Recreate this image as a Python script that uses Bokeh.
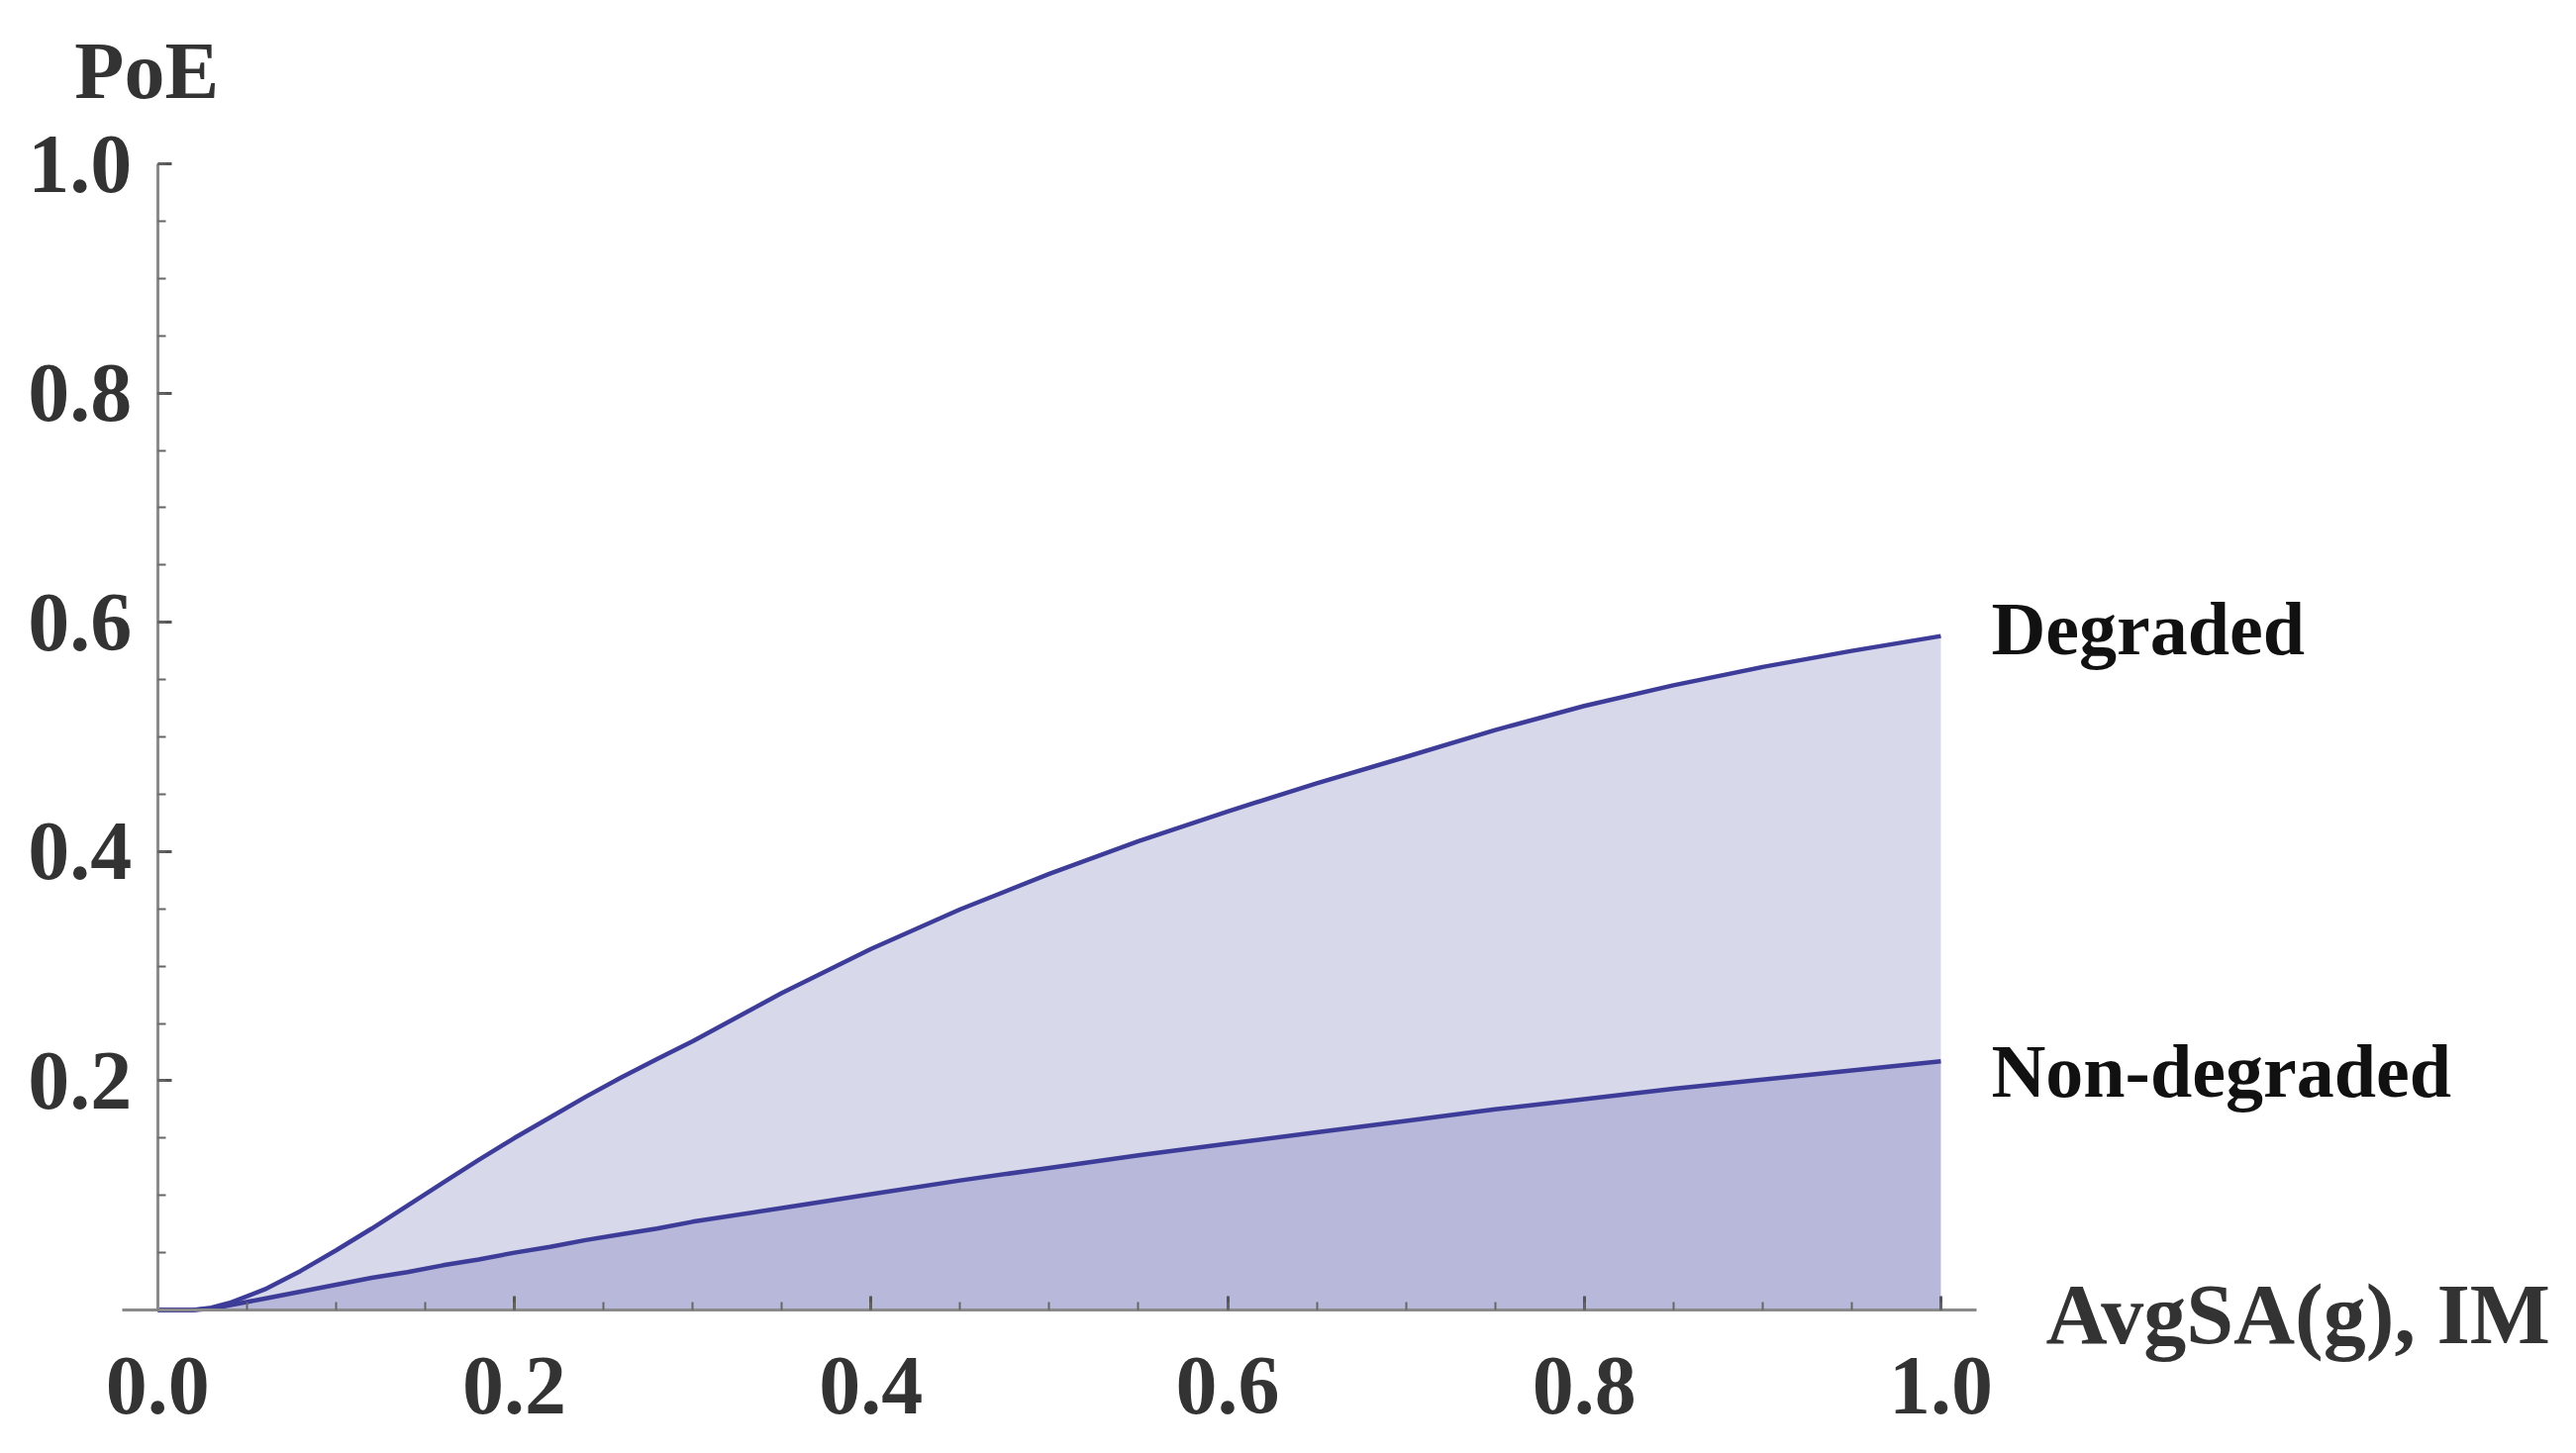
from bokeh.plotting import figure
from bokeh.models import Range1d, FixedTicker, PrintfTickFormatter, Label
from bokeh.embed import file_html
from bokeh.resources import INLINE

# --- data ---
im = [0.00, 0.02, 0.03, 0.04, 0.06, 0.08, 0.10, 0.12, 0.14, 0.16, 0.18, 0.20,
      0.22, 0.24, 0.26, 0.28, 0.30, 0.35, 0.40, 0.45, 0.50, 0.55, 0.60,
      0.65, 0.70, 0.75, 0.80, 0.85, 0.90, 0.95, 1.00]
degraded = [0.000, 0.000, 0.002, 0.006, 0.018, 0.034, 0.052, 0.071, 0.091, 0.111, 0.131, 0.150,
            0.168, 0.186, 0.203, 0.219, 0.2345, 0.2765, 0.315, 0.3495, 0.3805, 0.409, 0.435,
            0.4595, 0.4825, 0.506, 0.527, 0.545, 0.561, 0.575, 0.588]
non_degraded = [0.000, 0.000, 0.001, 0.004, 0.010, 0.016, 0.022, 0.028, 0.033, 0.039, 0.044, 0.050,
                0.055, 0.061, 0.066, 0.071, 0.077, 0.089, 0.101, 0.113, 0.124, 0.135, 0.145,
                0.155, 0.165, 0.175, 0.184, 0.193, 0.201, 0.209, 0.217]
x_ticks = [0.0, 0.2, 0.4, 0.6, 0.8, 1.0]
y_ticks = [0.2, 0.4, 0.6, 0.8, 1.0]
minor = [round(0.05 * i, 2) for i in range(1, 21)]
series_labels = ["Degraded", "Non-degraded"]
x_title = "AvgSA(g), IM"
y_title = "PoE"

LINE = "#3D3D99"
FONT = "Liberation Serif"
AX = "#8a8a8a"
TXT = "#333333"

# plot area covers the whole figure; axes cross at the origin (Mathematica style)
p = figure(width=2586, height=1452,
           x_range=Range1d(-0.0882, 1.3476), y_range=Range1d(-0.1114, 1.1425),
           output_backend="svg", toolbar_location=None,
           min_border=0, min_border_left=0, min_border_right=0,
           min_border_top=0, min_border_bottom=0)
p.outline_line_color = None
p.xgrid.visible = False
p.ygrid.visible = False
p.background_fill_color = "white"
p.border_fill_color = "white"

# fills (translucent, overlapping gives the darker band)
p.varea(x=im, y1=0, y2=degraded, fill_color=LINE, fill_alpha=0.2)
p.varea(x=im, y1=0, y2=non_degraded, fill_color=LINE, fill_alpha=0.2)
p.line(im, degraded, line_color=LINE, line_width=4.5, line_join="round")
p.line(im, non_degraded, line_color=LINE, line_width=4.5, line_join="round")

for ax in (p.xaxis[0], p.yaxis[0]):
    ax.axis_line_color = AX
    ax.axis_line_width = 3
    ax.major_tick_line_color = "#555555"
    ax.minor_tick_line_color = "#666666"
    ax.major_tick_line_width = 3
    ax.minor_tick_line_width = 2
    ax.major_tick_in = 14
    ax.major_tick_out = 0
    ax.minor_tick_in = 8
    ax.minor_tick_out = 0
    ax.major_label_text_font = FONT
    ax.major_label_text_font_style = "bold"
    ax.major_label_text_font_size = "84px"
    ax.major_label_text_color = TXT
    ax.formatter = PrintfTickFormatter(format="%.1f")
    ax.fixed_location = 0

p.xaxis[0].ticker = FixedTicker(ticks=x_ticks, minor_ticks=minor)
p.yaxis[0].ticker = FixedTicker(ticks=y_ticks, minor_ticks=minor)
p.xaxis[0].bounds = (-0.02, 1.02)
p.yaxis[0].bounds = (0.0, 1.0)
p.xaxis[0].major_label_standoff = 48
p.yaxis[0].major_label_standoff = 26

lab_font = dict(text_font=FONT, text_font_style="bold")
p.add_layout(Label(x=0, y=1.0, x_offset=-84, y_offset=94, text=y_title,
                   text_font_size="82px", text_color=TXT, text_baseline="middle",
                   text_align="left", **lab_font))
p.add_layout(Label(x=1.0, y=0, x_offset=106, y_offset=-4, text=x_title,
                   text_font_size="86px", text_color=TXT, text_baseline="middle",
                   text_align="left", **lab_font))
p.add_layout(Label(x=im[-1], y=degraded[-1], x_offset=51, y_offset=8, text=series_labels[0],
                   text_font_size="76px", text_color="#111111", text_baseline="middle",
                   text_align="left", **lab_font))
p.add_layout(Label(x=im[-1], y=non_degraded[-1], x_offset=51, y_offset=-10, text=series_labels[1],
                   text_font_size="76px", text_color="#111111", text_baseline="middle",
                   text_align="left", **lab_font))

open("out.html", "w").write(file_html(p, INLINE))
